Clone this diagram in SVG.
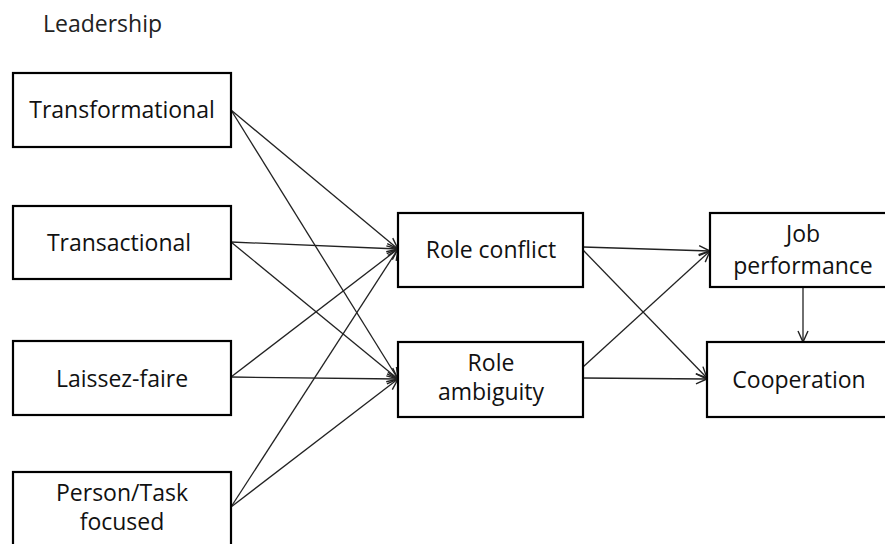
<svg xmlns="http://www.w3.org/2000/svg" width="885" height="544" viewBox="0 0 885 544">
<defs>
<style>
.box{fill:#fff;stroke:#000;stroke-width:2.2}
.lbl{font-family:"Open Sans","Liberation Sans",sans-serif;font-size:23px;fill:#111;text-anchor:middle}
.edge{stroke:#222;stroke-width:1.3;fill:none;marker-end:url(#arr)}
</style>
<marker id="arr" markerUnits="userSpaceOnUse" markerWidth="14" markerHeight="14" refX="12" refY="6" orient="auto" viewBox="0 0 14 12">
<path d="M1,1 L12,6 L1,11" fill="none" stroke="#222" stroke-width="1.4"/>
</marker>
</defs>
<rect width="885" height="544" fill="#fff"/>
<text x="43" y="32" font-family="Open Sans, Liberation Sans, sans-serif" font-size="23" fill="#222">Leadership</text>
<g id="connectors">
<line class="edge" x1="231" y1="110" x2="398" y2="249"/>
<line class="edge" x1="231" y1="110" x2="398" y2="379"/>
<line class="edge" x1="231" y1="242" x2="398" y2="249"/>
<line class="edge" x1="231" y1="242" x2="398" y2="379"/>
<line class="edge" x1="231" y1="377" x2="398" y2="249"/>
<line class="edge" x1="231" y1="377" x2="398" y2="379"/>
<line class="edge" x1="231" y1="507" x2="398" y2="249"/>
<line class="edge" x1="231" y1="507" x2="398" y2="379"/>
<line class="edge" x1="583" y1="247" x2="710" y2="251"/>
<line class="edge" x1="583" y1="250" x2="707" y2="378"/>
<line class="edge" x1="583" y1="367" x2="710" y2="251"/>
<line class="edge" x1="583" y1="378" x2="707" y2="379"/>
<line class="edge" x1="803" y1="287" x2="803" y2="342"/>
</g>
<g id="transformational"><rect class="box" x="13" y="73" width="218" height="74"/><text class="lbl" x="122" y="118">Transformational</text></g>
<g id="transactional"><rect class="box" x="13" y="206" width="218" height="73"/><text class="lbl" x="119" y="251">Transactional</text></g>
<g id="laissez-faire"><rect class="box" x="13" y="341" width="218" height="74"/><text class="lbl" x="122" y="387">Laissez-faire</text></g>
<g id="person-task"><rect class="box" x="13" y="472" width="218" height="82"/><text class="lbl" x="122" y="501">Person/Task</text><text class="lbl" x="122" y="530">focused</text></g>
<g id="role-conflict"><rect class="box" x="398" y="213" width="185" height="74"/><text class="lbl" x="491" y="258">Role conflict</text></g>
<g id="role-ambiguity"><rect class="box" x="398" y="342" width="185" height="75"/><text class="lbl" x="491" y="371">Role</text><text class="lbl" x="491" y="400">ambiguity</text></g>
<g id="job-performance"><rect class="box" x="710" y="213" width="186" height="74"/><text class="lbl" x="803" y="242">Job</text><text class="lbl" x="803" y="274">performance</text></g>
<g id="cooperation"><rect class="box" x="707" y="342" width="190" height="75"/><text class="lbl" x="799" y="388">Cooperation</text></g>
</svg>
